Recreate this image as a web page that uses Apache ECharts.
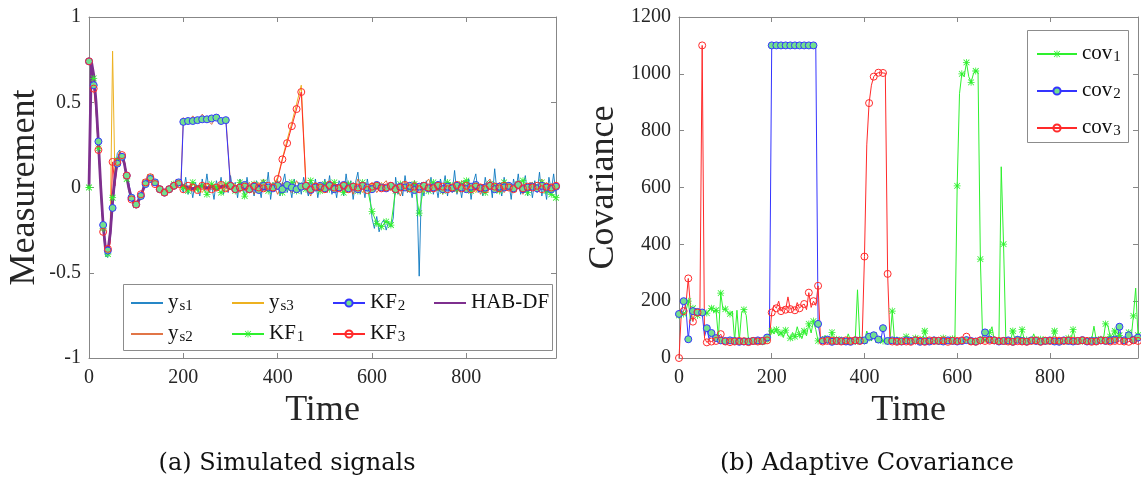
<!DOCTYPE html>
<html><head><meta charset="utf-8">
<script src="https://cdn.jsdelivr.net/npm/echarts@6/dist/echarts.min.js"></script>
<style>html,body{margin:0;padding:0;background:#fff}#c{width:1141px;height:487px}</style>
</head><body><div id="c"></div>
<script>
// ---------- sample times ----------
// step 5 over 0..995
const time5 = Array.from({length: 200}, (_, i) => i * 5);
// step 5 over 0..195, then step 10 over 200..990
const timeMixed = Array.from({length: 40}, (_, i) => i * 5).concat(Array.from({length: 80}, (_, i) => 200 + i * 10));

// ---------- left panel: Measurement (ys1 on time5, others on timeMixed) ----------
const ys1 = [
 0.74, 0.75, 0.66, 0.49, 0.27, 0.02, -0.24, -0.40, -0.41, -0.26,
 -0.06, 0.09, 0.20, 0.22, 0.17, 0.13, 0.07, -0.03, -0.07, -0.12,
 -0.11, -0.06, -0.06, 0.00, 0.04, 0.06, 0.07, 0.03, 0.04, 0.00,
 -0.02, -0.04, -0.01, -0.04, 0.00, 0.02, 0.00, 0.04, 0.03, 0.01,
 -0.03, 0.06, -0.04, 0.02, -0.06, 0.03, 0.00, -0.05, 0.05, -0.02,
 0.08, -0.03, 0.01, -0.07, 0.04, -0.01, 0.06, -0.04, 0.02, -0.03,
 0.07, -0.02, 0.03, -0.06, 0.05, 0.00, -0.04, 0.06, -0.03, 0.02,
 -0.05, 0.04, 0.01, -0.06, 0.05, -0.02, 0.09, -0.07, 0.03, -0.01,
 0.04, -0.05, 0.02, 0.08, -0.03, 0.01, -0.06, 0.05, -0.02, 0.03,
 -0.04, 0.06, 0.00, -0.05, 0.04, -0.02, 0.05, -0.06, 0.02, -0.01,
 0.05, -0.03, 0.07, -0.04, 0.02, -0.06, 0.04, 0.01, -0.05, 0.08,
 -0.02, 0.04, -0.07, 0.03, 0.09, -0.04, 0.02, -0.06, 0.05, -0.03,
 -0.18, -0.24, -0.17, -0.26, -0.21, -0.19, -0.25, -0.20, -0.23, -0.18,
 0.06, -0.04, 0.02, -0.05, 0.07, -0.03, 0.01, -0.06, 0.04, -0.02,
 -0.52, 0.03, -0.05, 0.04, -0.02, 0.06, -0.04, 0.02, -0.06, 0.05,
 -0.01, 0.07, -0.05, 0.03, -0.03, 0.10, -0.04, 0.02, -0.06, 0.04,
 -0.02, 0.05, -0.07, 0.03, 0.08, -0.03, 0.01, -0.05, 0.06, -0.02,
 0.04, -0.06, 0.11, -0.03, 0.02, -0.05, 0.06, -0.01, 0.03, -0.07,
 0.05, -0.02, 0.08, -0.04, 0.01, 0.07, -0.05, 0.03, -0.06, 0.04,
 -0.03, 0.09, -0.05, 0.02, -0.07, 0.06, -0.02, 0.08, -0.04, -0.06
];
const ys2 = [
 0.73, 0.75, 0.64, 0.52, 0.24, 0.03, -0.24, -0.38, -0.35, -0.29,
 -0.06, 0.08, 0.13, 0.21, 0.17, 0.15, 0.04, 0.01, -0.08, -0.07,
 -0.11, -0.06, -0.07, 0.01, 0.00, 0.06, 0.03, 0.07, 0.02, 0.03,
 -0.03, 0.00, -0.05, 0.00, -0.03, 0.02, -0.01, 0.05, 0.01, 0.04,
 0.41, 0.38, 0.42, 0.39, 0.43, 0.40, 0.37, 0.42, 0.39, 0.41,
 0.02, -0.03, 0.04, -0.01, 0.03, -0.04, 0.01, 0.05, -0.02, 0.02,
 -0.04, 0.03, 0.00, -0.03, 0.04, -0.01, 0.02, -0.05, 0.03, 0.01,
 -0.02, 0.04, -0.03, 0.02, -0.01, 0.03, -0.04, 0.05, 0.00, -0.02,
 0.03, -0.03, 0.01, 0.04, -0.02, 0.02, -0.05, 0.03, -0.01, 0.04,
 -0.03, 0.01, 0.05, -0.02, 0.03, -0.04, 0.02, 0.00, -0.03, 0.04,
 0.01, -0.02, 0.03, -0.04, 0.02, 0.05, -0.01, 0.03, -0.03, 0.01,
 -0.02, 0.04, -0.04, 0.02, 0.03, -0.01, 0.05, -0.03, 0.02, 0.00
];
const ys3 = [
 0.74, 0.73, 0.63, 0.49, 0.25, -0.01, -0.23, -0.37, -0.38, -0.25,
 0.80, 0.05, 0.14, 0.19, 0.19, 0.13, 0.06, -0.02, -0.05, -0.10,
 -0.09, -0.08, -0.04, -0.02, 0.03, 0.04, 0.06, 0.04, 0.03, 0.01,
 -0.01, -0.02, -0.03, -0.02, -0.01, 0.00, 0.02, 0.02, 0.03, 0.02,
 0.01, -0.02, 0.02, 0.00, -0.03, 0.02, 0.01, -0.01, 0.03, -0.02,
 0.00, 0.02, -0.03, 0.01, 0.02, -0.01, 0.03, -0.02, 0.00, 0.01,
 0.06, 0.17, 0.28, 0.38, 0.49, 0.60,
 0.01, -0.02, 0.02, 0.00, -0.03, 0.02, 0.01, -0.01, 0.03, -0.02,
 0.00, 0.02, -0.03, 0.01, 0.02, -0.01, 0.03, -0.02, 0.00, 0.01,
 -0.02, 0.03, 0.00, -0.01, 0.02, -0.03, 0.01, 0.02, -0.02, 0.00,
 0.03, -0.01, 0.01, -0.02, 0.02, 0.00, -0.03, 0.02, 0.01, -0.01,
 0.02, -0.02, 0.03, 0.00, -0.01, 0.02, -0.03, 0.01, 0.00, 0.02,
 -0.01, 0.03, -0.02, 0.01
];
const kf1 = [
 0.00, 0.72, 0.64, 0.45, 0.23, -0.05, -0.24, -0.36, -0.39, -0.22,
 -0.06, 0.07, 0.16, 0.20, 0.18, 0.13, 0.05, -0.02, -0.06, -0.10,
 -0.10, -0.07, -0.05, -0.02, 0.03, 0.05, 0.06, 0.04, 0.03, 0.01,
 -0.01, -0.03, -0.03, -0.02, -0.01, 0.01, 0.02, 0.03, 0.02, 0.01,
 0.00, -0.02, 0.03, -0.01, 0.01, -0.04, 0.02, 0.00, -0.03, 0.02,
 0.01, -0.02, 0.03, -0.05, 0.00, 0.02, -0.01, 0.03, -0.02, 0.01,
 0.02, -0.03, 0.00, 0.03, -0.02, 0.01, -0.01, 0.04, 0.00, -0.02,
 0.02, -0.01, 0.03, 0.00, -0.03, 0.02, 0.01, -0.02, 0.03, 0.00,
 -0.14, -0.21, -0.23, -0.20, -0.22,
 -0.02, 0.02, 0.00, -0.01, 0.02, -0.15, 0.01, -0.02, 0.03, 0.00,
 -0.02, 0.03, 0.01, -0.01, 0.02, 0.04, -0.02, 0.01, 0.00, -0.03,
 0.02, 0.01, -0.02, 0.03, 0.00, -0.01, 0.02, 0.04, -0.03, 0.01,
 0.00, 0.03, -0.02, -0.04, -0.06
];
const kf2 = [
 0.74, 0.73, 0.60, 0.50, 0.27, 0.00, -0.22, -0.35, -0.37, -0.30,
 -0.12, 0.02, 0.14, 0.18, 0.18, 0.15, 0.07, 0.02, -0.06, -0.09,
 -0.10, -0.08, -0.05, -0.01, 0.02, 0.04, 0.05, 0.05, 0.03, 0.01,
 -0.01, -0.02, -0.03, -0.02, -0.01, 0.00, 0.01, 0.02, 0.03, 0.02,
 0.385, 0.39, 0.39, 0.395, 0.40, 0.40, 0.405, 0.41, 0.39, 0.395,
 0.01, -0.01, 0.00, 0.015, -0.01, 0.005, -0.015, 0.01, 0.00, -0.005,
 0.01, -0.01, 0.015, 0.00, -0.01, 0.005, 0.01, -0.015, 0.00, 0.01,
 -0.005, 0.01, -0.01, 0.00, 0.015, -0.005, 0.005, -0.01, 0.01, 0.00,
 -0.01, 0.015, 0.00, -0.005, 0.01, -0.01, 0.005, 0.00, 0.01, -0.015,
 0.005, 0.01, -0.005, 0.00, 0.015, -0.01, 0.005, -0.005, 0.01, 0.00,
 -0.01, 0.005, 0.015, -0.005, 0.00, 0.01, -0.01, 0.005, 0.00, 0.01,
 -0.005, 0.015, -0.01, 0.00, 0.005, -0.005, 0.01, 0.00, -0.01, 0.005
];
const kf3 = [
 0.74, 0.73, 0.58, 0.45, 0.22, 0.02, -0.26, -0.34, -0.36, -0.33,
 0.15, 0.01, 0.15, 0.18, 0.19, 0.16, 0.07, 0.00, -0.07, -0.08,
 -0.10, -0.07, -0.04, -0.02, 0.03, 0.04, 0.06, 0.05, 0.02, 0.02,
 -0.01, -0.02, -0.03, -0.02, -0.01, 0.01, 0.01, 0.03, 0.02, 0.01,
 -0.01, 0.01, 0.00, -0.015, 0.01, 0.005, -0.01, 0.00, 0.015, -0.005,
 0.01, -0.01, 0.00, 0.005, -0.01, 0.01, 0.00, -0.005, 0.01, 0.00,
 0.05, 0.165, 0.26, 0.36, 0.46, 0.56,
 0.01, -0.01, 0.005, 0.00, -0.01, 0.015, 0.00, -0.005, 0.01, -0.01,
 0.005, 0.00, 0.01, -0.015, 0.005, 0.01, -0.005, 0.00, 0.01, -0.01,
 0.00, 0.015, -0.005, 0.005, -0.01, 0.01, 0.00, -0.005, 0.01, 0.005,
 -0.01, 0.00, 0.015, -0.005, 0.01, -0.01, 0.005, 0.00, -0.01, 0.01,
 0.005, -0.005, 0.01, 0.00, -0.01, 0.015, -0.005, 0.005, 0.00, 0.01,
 -0.01, 0.005, 0.00, 0.01
];
const habdf = [
 0.00, 0.74, 0.66, 0.50, 0.26, 0.00, -0.22, -0.36, -0.37, -0.27,
 -0.08, 0.06, 0.15, 0.19, 0.185, 0.14, 0.06, -0.01, -0.06, -0.09,
 -0.095, -0.08, -0.05, -0.01, 0.02, 0.04, 0.05, 0.048, 0.035, 0.012,
 -0.005, -0.018, -0.025, -0.024, -0.015, -0.002, 0.012, 0.022, 0.026, 0.02,
 0.012, 0.000, -0.008, 0.005, 0.010, -0.005, 0.008, -0.010, 0.004, 0.012,
 -0.006, 0.003, 0.010, -0.008, 0.006, -0.004, 0.009, -0.010, 0.002, 0.007,
 -0.006, 0.010, -0.003, 0.005, -0.009, 0.004, 0.011, -0.005, 0.002, -0.008,
 0.008, -0.002, 0.010, -0.006, 0.004, -0.010, 0.007, 0.000, 0.009, -0.007,
 0.005, -0.003, 0.010, -0.008, 0.003, 0.006, -0.009, 0.008, -0.002, 0.004,
 -0.007, 0.010, -0.004, 0.006, -0.010, 0.003, 0.008, -0.005, 0.002, 0.009,
 -0.006, 0.004, -0.008, 0.010, -0.003, 0.006, -0.009, 0.002, 0.007, -0.005,
 0.010, -0.002, 0.004, -0.007, 0.008, -0.004, 0.006, -0.008, 0.003, 0.005
];

// ---------- right panel: Covariance (all on time5) ----------
const cov1 = [
 150, 160, 155, 165, 200, 130, 175, 160, 150, 170,
 160, 165, 158, 170, 175, 162, 168, 70, 228, 170,
 172, 160, 155, 165, 62, 168, 60, 158, 170, 150,
 62, 58, 60, 55, 58, 62, 57, 60, 63, 70,
 95, 85, 100, 78, 88, 72, 98, 80, 70, 90,
 75, 110, 82, 68, 95, 78, 120, 88, 130, 100,
 60, 58, 65, 80, 62, 57, 90, 60, 66, 58,
 63, 70, 58, 85, 62, 60, 58, 240, 65, 72,
 60, 95, 70, 62, 80, 58, 64, 75, 60, 66,
 58, 62, 165, 60, 64, 70, 58, 62, 75, 60,
 62, 58, 70, 60, 66, 58, 95, 62, 60, 58,
 64, 60, 58, 66, 70, 58, 62, 60, 68, 60,
 606, 930, 1000, 990, 1040, 990, 970, 1000, 1010, 1005,
 348, 60, 64, 58, 90, 110, 62, 70, 60, 673,
 401, 60, 58, 62, 95, 60, 66, 58, 100, 60,
 64, 58, 60, 85, 62, 58, 66, 60, 58, 62,
 60, 66, 95, 58, 62, 60, 58, 64, 70, 60,
 100, 62, 58, 66, 60, 70, 62, 58, 64, 112,
 62, 70, 66, 60, 120, 115, 75, 64, 95, 62,
 80, 70, 64, 72, 90, 66, 148, 246, 80, 110
];
const cov2 = [
 155, 160, 200, 175, 66, 150, 165, 158, 162, 160,
 160, 75, 105, 65, 88, 60, 70, 58, 62, 60,
 60, 58, 62, 56, 60, 64, 57, 60, 58, 62,
 58, 55, 60, 57, 62, 58, 60, 66, 72, 80,
 1100, 1100, 1100, 1100, 1100, 1100, 1100, 1100, 1100, 1100,
 1100, 1100, 1100, 1100, 1100, 1100, 1100, 1100, 1100, 1100,
 120, 70, 62, 58, 65, 60, 57, 62, 60, 58,
 60, 62, 58, 64, 57, 60, 62, 58, 61, 60,
 62, 58, 75, 60, 80, 58, 65, 60, 105, 62,
 60, 58, 62, 57, 60, 64, 58, 60, 62, 57,
 60, 58, 62, 60, 57, 61, 59, 63, 58, 60,
 62, 57, 60, 64, 58, 60, 62, 58, 60, 61,
 58, 62, 60, 57, 63, 59, 60, 62, 58, 60,
 62, 58, 90, 60, 65, 57, 62, 60, 58, 63,
 60, 58, 62, 60, 57, 61, 64, 58, 60, 62,
 58, 60, 62, 57, 60, 64, 58, 61, 60, 58,
 62, 60, 58, 63, 57, 60, 62, 58, 60, 61,
 58, 62, 60, 57, 63, 60, 58, 62, 60, 64,
 60, 58, 62, 70, 60, 58, 62, 60, 65, 58,
 110, 60, 62, 58, 80, 60, 64, 58, 72, 60
];
const cov3 = [
 0, 160, 165, 190, 280, 175, 128, 165, 160, 150,
 1100, 70, 55, 60, 58, 62, 60, 75, 84, 62,
 58, 60, 56, 62, 58, 55, 60, 57, 59, 61,
 56, 58, 60, 55, 58, 57, 60, 58, 62, 65,
 160, 185, 175, 200, 165, 180, 170, 215, 172, 178,
 168, 195, 175, 185, 190, 170, 230, 178, 200, 185,
 254, 70, 58, 62, 60, 57, 61, 58, 60, 63,
 58, 60, 62, 57, 60, 59, 62, 58, 60, 61,
 357, 750, 897, 960, 990, 1000, 1004, 1004, 1003, 1002,
 296, 62, 58, 60, 57, 61, 59, 62, 58, 60,
 57, 60, 62, 58, 61, 59, 57, 60, 62, 58,
 60, 57, 61, 58, 62, 60, 57, 59, 61, 58,
 60, 58, 62, 57, 75, 60, 58, 61, 57, 60,
 62, 58, 60, 57, 61, 59, 62, 58, 60, 57,
 60, 62, 58, 61, 57, 60, 59, 62, 58, 60,
 57, 61, 60, 58, 62, 59, 57, 60, 61, 58,
 60, 57, 62, 58, 61, 59, 60, 57, 62, 58,
 61, 58, 60, 57, 62, 59, 60, 58, 57, 61,
 58, 60, 62, 57, 61, 59, 58, 62, 60, 57,
 60, 62, 58, 61, 57, 60, 62, 58, 60, 57
];

// ---------- axis ticks / labels ----------
const xTickValues = [0, 200, 400, 600, 800];
const leftYTicks = [-1, -0.5, 0, 0.5, 1];
const rightYTicks = [0, 200, 400, 600, 800, 1000, 1200];

const legendLabels = {
  ys1: '{m|y}{s|s1}', ys2: '{m|y}{s|s2}', ys3: '{m|y}{s|s3}',
  KF1: '{m|KF}{s|1}', KF2: '{m|KF}{s|2}', KF3: '{m|KF}{s|3}',
  'HAB-DF': '{m|HAB-DF}{s| }',
  cov1: '{m|cov}{s|1}', cov2: '{m|cov}{s|2}', cov3: '{m|cov}{s|3}'
};

// ---------- build ----------
const FONT = 'Liberation Serif';
const CAPFONT = 'DejaVu Serif';
const AX = '#878787';
const TXT = '#262626';
const pair = (t, v) => v.map((y, i) => [t[i], y]);
const markEvery10 = size => (v) => (Math.round(v[0]) % 10 === 0 ? size : 0);
const ASTER = 'path://M4.45,0H5.55V10H4.45Z M0,4.45H10V5.55H0Z M1.3,0.5L9.5,8.7L8.7,9.5L0.5,1.3Z M8.7,0.5L9.5,1.3L1.3,9.5L0.5,8.7Z';

function xAx(grid, top, name, max) {
  return {
    type: 'value', gridIndex: grid, position: top ? 'top' : 'bottom',
    min: 0, max: max, interval: 200,
    name: top ? '' : name, nameLocation: 'middle', nameGap: 33,
    nameTextStyle: {fontFamily: FONT, fontSize: 36, color: TXT},
    axisLine: {show: true, onZero: false, lineStyle: {color: AX, width: 1}},
    axisTick: {show: true, inside: true, length: 5, lineStyle: {color: AX},
      customValues: xTickValues},
    axisLabel: {show: !top, fontFamily: FONT, fontSize: 20, color: TXT, margin: 10,
      customValues: xTickValues, formatter: v => String(v)},
    splitLine: {show: false}
  };
}
function yAx(grid, right, name, min, max, interval, ticks, gap) {
  return {
    type: 'value', gridIndex: grid, position: right ? 'right' : 'left',
    min: min, max: max, interval: interval,
    name: right ? '' : name, nameLocation: 'middle', nameGap: gap, nameRotate: 90,
    nameTextStyle: {fontFamily: FONT, fontSize: 36, color: TXT},
    axisLine: {show: true, onZero: false, lineStyle: {color: AX, width: 1}},
    axisTick: {show: true, inside: true, length: 5, lineStyle: {color: AX}, customValues: ticks},
    axisLabel: {show: !right, fontFamily: FONT, fontSize: 20, color: TXT, margin: 8,
      customValues: ticks, formatter: v => String(v)},
    splitLine: {show: false}
  };
}

function lineS(name, data, color, xi, yi, extra) {
  return Object.assign({
    name: name, type: 'line', xAxisIndex: xi, yAxisIndex: yi, data: data,
    symbol: 'none', animation: false, smooth: false,
    lineStyle: {color: color, width: 1}, itemStyle: {color: color},
    emphasis: {disabled: true}
  }, extra || {});
}

const richStyle = {
  m: {fontFamily: FONT, fontSize: 21, color: '#111', verticalAlign: 'top', lineHeight: 22},
  s: {fontFamily: FONT, fontSize: 15, color: '#111', verticalAlign: 'bottom', lineHeight: 15, padding: [13, 0, 0, 1]}
};
function legend(names, left, top, width, gap) {
  return {
    data: names, orient: 'vertical', left: left, top: top,
    itemWidth: width, itemHeight: 9, itemGap: gap, selectedMode: false,
    formatter: n => legendLabels[n],
    textStyle: {rich: richStyle}, padding: 0
  };
}
const noSym = {opacity: 0};

const green = '#2ef02e', blue = '#3434ff', red = '#ff2a2a', mfill = '#72e08e';

const option = {
  animation: false,
  grid: [
    {left: 89, top: 17, width: 467, height: 341},
    {left: 679, top: 17, width: 459, height: 341}
  ],
  xAxis: [xAx(0, false, 'Time', 990), xAx(0, true, '', 990), xAx(1, false, 'Time', 990), xAx(1, true, '', 990)],
  yAxis: [
    yAx(0, false, 'Measurement', -1, 1, 0.5, leftYTicks, 46), yAx(0, true, '', -1, 1, 0.5, leftYTicks, 46),
    yAx(1, false, 'Covariance', 0, 1200, 200, rightYTicks, 57), yAx(1, true, '', 0, 1200, 200, rightYTicks, 57)
  ],
  legend: [
    legend([{name: 'ys1', itemStyle: noSym}, {name: 'ys2', itemStyle: noSym}], 130, 286, 32, 3),
    legend([{name: 'ys3', itemStyle: noSym}, 'KF1'], 231, 286, 32, 3),
    legend(['KF2', 'KF3'], 332, 286, 32, 3),
    legend([{name: 'HAB-DF', itemStyle: noSym}], 433, 286, 32, 3),
    legend(['cov1', 'cov2', 'cov3'], 1036, 37, 40, 9)
  ],
  graphic: [
    {type: 'rect', z: 3, shape: {x: 123.5, y: 284.5, width: 429, height: 66}, style: {fill: '#fff', stroke: '#8c8c8c', lineWidth: 1}},
    {type: 'rect', z: 3, shape: {x: 1027.5, y: 30.5, width: 101, height: 112}, style: {fill: '#fff', stroke: '#8c8c8c', lineWidth: 1}},
    {type: 'text', z: 3, x: 287, y: 452, style: {text: '(a) Simulated signals', fontFamily: CAPFONT, fontSize: 24, fill: '#111', textAlign: 'center', textVerticalAlign: 'top'}},
    {type: 'text', z: 3, x: 867, y: 452, style: {text: '(b) Adaptive Covariance', fontFamily: CAPFONT, fontSize: 24, fill: '#111', textAlign: 'center', textVerticalAlign: 'top'}}
  ],
  series: [
    lineS('ys1', pair(time5, ys1), '#0072BD', 0, 0, {lineStyle: {color: '#0072BD', width: 1, opacity: 0.85}}),
    lineS('ys2', pair(timeMixed, ys2), '#D95319', 0, 0, {lineStyle: {color: '#D95319', width: 1, opacity: 0.8}}),
    lineS('ys3', pair(timeMixed, ys3), '#EDB120', 0, 0, {lineStyle: {color: '#EDB120', width: 1}}),
    lineS('KF1', pair(timeMixed, kf1), green, 0, 0, {symbol: ASTER, symbolSize: markEvery10(7), showSymbol: true}),
    lineS('KF2', pair(timeMixed, kf2), blue, 0, 0, {symbol: 'circle', symbolSize: markEvery10(7), showSymbol: true,
      itemStyle: {color: mfill, borderColor: blue, borderWidth: 1}}),
    lineS('KF3', pair(timeMixed, kf3), red, 0, 0, {symbol: 'circle', symbolSize: markEvery10(7), showSymbol: true,
      itemStyle: {color: 'rgba(255,255,255,0)', borderColor: red, borderWidth: 1}}),
    lineS('HAB-DF', pair(timeMixed, habdf), '#7E2F8E', 0, 0, {lineStyle: {color: '#7E2F8E', width: 2.8}}),
    lineS('cov1', pair(time5, cov1), green, 2, 2, {symbol: ASTER, symbolSize: markEvery10(7), showSymbol: true}),
    lineS('cov2', pair(time5, cov2), blue, 2, 2, {symbol: 'circle', symbolSize: markEvery10(7), showSymbol: true,
      itemStyle: {color: mfill, borderColor: blue, borderWidth: 1}}),
    lineS('cov3', pair(time5, cov3), red, 2, 2, {symbol: 'circle', symbolSize: markEvery10(7), showSymbol: true,
      itemStyle: {color: 'rgba(255,255,255,0)', borderColor: red, borderWidth: 1}})
  ]
};
const chart = echarts.init(document.getElementById('c'), null, {renderer: 'canvas'});
chart.setOption(option);
</script></body></html>
